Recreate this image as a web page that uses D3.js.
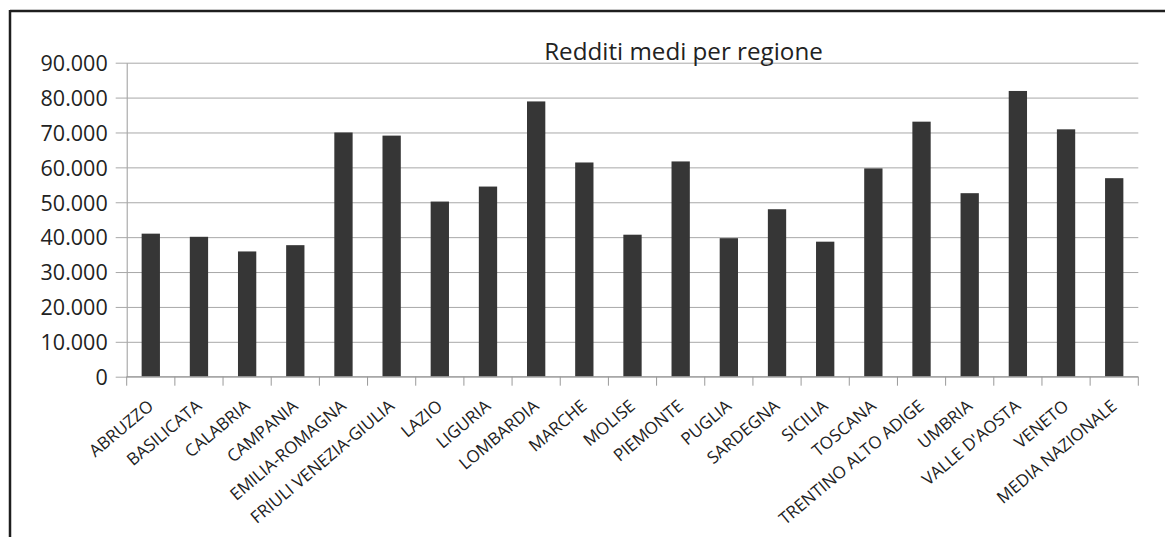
<!DOCTYPE html>
<html>
<head>
<meta charset="utf-8">
<script src="https://cdn.jsdelivr.net/npm/d3@7"></script>
<style>
html,body{margin:0;padding:0;background:#fff;}
svg{display:block;}
</style>
</head>
<body>
<script>
const categories = ["ABRUZZO","BASILICATA","CALABRIA","CAMPANIA","EMILIA-ROMAGNA","FRIULI VENEZIA-GIULIA","LAZIO","LIGURIA","LOMBARDIA","MARCHE","MOLISE","PIEMONTE","PUGLIA","SARDEGNA","SICILIA","TOSCANA","TRENTINO ALTO ADIGE","UMBRIA","VALLE D'AOSTA","VENETO","MEDIA NAZIONALE"];
const values = [41000,40100,35900,37700,70000,69100,50200,54500,78900,61400,40700,61700,39700,48000,38700,59700,73100,52600,81900,70900,56900];
const yTicks = [0,10000,20000,30000,40000,50000,60000,70000,80000,90000];
const title = "Redditi medi per regione";

(function () {
const W = 1165, H = 537;
const svg = d3.select("body").append("svg").attr("width", W).attr("height", H);
svg.append("rect").attr("width", W).attr("height", H).attr("fill", "#fff");

const pLeft = 126.7, pRight = 1138.3, pTop = 62.7, pBottom = 376.7;
const it = d3.formatLocale({decimal: ",", thousands: ".", grouping: [3], currency: ["", "€"]});
const fmt = it.format(",d");

const x = d3.scaleBand().domain(categories).range([pLeft, pRight]).paddingInner(0.62).paddingOuter(0.31);
const y = d3.scaleLinear().domain([0, 90000]).range([pBottom, pTop]);

// frame
svg.append("line").attr("x1", 10).attr("x2", W).attr("y1", 11).attr("y2", 11).attr("stroke", "#1e1e1e").attr("stroke-width", 2.5);
svg.append("line").attr("x1", 10).attr("x2", 10).attr("y1", 10).attr("y2", H).attr("stroke", "#1e1e1e").attr("stroke-width", 2.5);

// gridlines with left ticks
const yAxis = d3.axisLeft(y).tickValues(yTicks).tickFormat(fmt).tickSize(-(pRight - pLeft)).tickSizeOuter(0).tickPadding(19);
const ga = svg.append("g").attr("transform", `translate(${pLeft},0)`).call(yAxis);
ga.select(".domain").attr("stroke", "#9a9a9a").attr("stroke-width", 1);
ga.selectAll(".tick line").attr("stroke", "#a8a8a8").attr("stroke-width", 1).attr("x1", -11);
ga.selectAll(".tick text").attr("font-family", "'Open Sans', sans-serif").attr("font-size", 21.5).attr("fill", "#222").attr("dy", "0.36em");

// bars
svg.append("g").selectAll("rect").data(values).join("rect")
  .attr("x", (d, i) => x(categories[i]))
  .attr("width", x.bandwidth())
  .attr("y", d => y(d))
  .attr("height", d => y(0) - y(d))
  .attr("fill", "#363636");

// x axis
const step = x.step();
const xg = svg.append("g");
xg.append("line").attr("x1", pLeft).attr("x2", pRight).attr("y1", pBottom).attr("y2", pBottom).attr("stroke", "#9a9a9a");
xg.selectAll("line.tk").data(d3.range(categories.length + 1)).join("line").attr("class", "tk")
  .attr("x1", i => pLeft + i * step).attr("x2", i => pLeft + i * step)
  .attr("y1", pBottom).attr("y2", pBottom + 9).attr("stroke", "#9a9a9a");
xg.selectAll("text").data(categories).join("text")
  .attr("transform", d => `translate(${x(d) + x.bandwidth() / 2 - 4},${pBottom + 22}) rotate(-40)`)
  .attr("text-anchor", "end")
  .attr("dy", "0.71em")
  .attr("font-family", "'Open Sans', sans-serif")
  .attr("font-size", 17)
  .attr("fill", "#222")
  .text(d => d);

// title
svg.append("text").attr("x", 683.5).attr("y", 60).attr("text-anchor", "middle")
  .attr("font-family", "'Open Sans', sans-serif").attr("font-size", 24.2).attr("fill", "#222").text(title);
})();
</script>
</body>
</html>
